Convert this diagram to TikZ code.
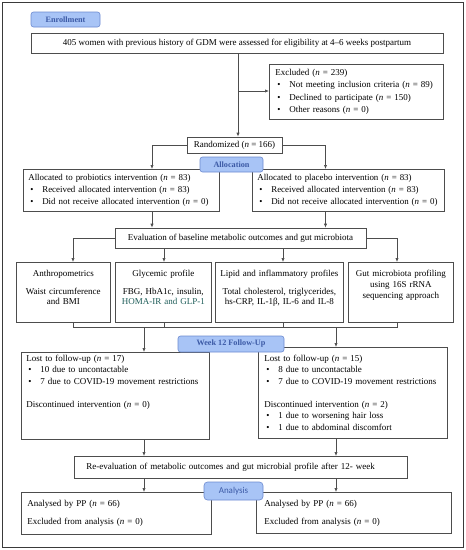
\documentclass[tikz,border=0pt]{standalone}
\usepackage{fontspec}
\setmainfont{Liberation Serif}
\newfontfamily\tabsans{Carlito}
\usepackage{xcolor}
\usepackage{tikz}
\usetikzlibrary{arrows.meta}
\definecolor{FCTab}{HTML}{A8C4F6}
\definecolor{FCTabLine}{HTML}{6C8AD0}
\definecolor{FCTabText}{HTML}{3C5AA6}
\definecolor{FCLine}{HTML}{4D4D4D}
\definecolor{FCFrame}{HTML}{3A3A3A}
\definecolor{FCTeal}{HTML}{1D5C58}
\newcommand{\nn}{\textit{n}}
\newcommand{\bul}{\makebox[14pt][l]{\hspace{2pt}\textbullet}}

\begin{document}
\begin{tikzpicture}[x=1pt,y=-1pt,
  every node/.style={font=\fontsize{9}{11.6}\selectfont},
  box/.style={draw=FCLine,line width=0.65pt,inner sep=0pt},
  tab/.style={draw=FCTabLine,fill=FCTab,rounded corners=2.5pt,line width=0.6pt,text=FCTabText,inner sep=0pt,font=\fontsize{8.2}{9}\selectfont\bfseries},
  four/.style={box,anchor=north west,align=center,inner xsep=3pt,inner ysep=7pt,text height=7pt,text depth=39pt,font=\fontsize{9}{10}\selectfont},
  arr/.style={draw=FCLine,line width=0.65pt,-{Latex[length=4pt,width=3.2pt]}},
  link/.style={draw=FCLine,line width=0.65pt}]
\path[use as bounding box] (0,0) rectangle (466,550);
\draw[FCFrame,line width=0.9pt] (2.5,2.5) rectangle (463.5,547.5);
% enrollment
\node[box,minimum width=412pt,minimum height=20pt] (assess) at (237,43) {405 women with previous history of GDM were assessed for eligibility at 4--6 weeks postpartum};
\node[box,anchor=north west,inner xsep=6pt,text width=162pt,minimum height=55pt,align=left,font=\fontsize{9}{12.3}\selectfont] (excl) at (269,64) {Excluded (\nn{} = 239)\\ \bul Not meeting inclusion criteria (\nn{} = 89)\\ \bul Declined to participate (\nn{} = 150)\\ \bul Other reasons (\nn{} = 0)};
\node[box,minimum width=95pt,minimum height=16pt] (rand) at (234.5,145) {Randomized (\nn{} = 166)};
% allocation
\node[box,anchor=north west,inner xsep=5pt,text width=186pt,minimum height=42pt,align=left,font=\fontsize{8.9}{12}\selectfont] (allocL) at (23,169) {Allocated to probiotics intervention (\nn{} = 83)\\ \bul Received allocated intervention (\nn{} = 83)\\ \bul Did not receive allocated intervention (\nn{} = 0)};
\node[box,anchor=north west,inner xsep=5pt,text width=182pt,minimum height=42pt,align=left,font=\fontsize{8.9}{12}\selectfont] (allocR) at (252,169) {Allocated to placebo intervention (\nn{} = 83)\\ \bul Received allocated intervention (\nn{} = 83)\\ \bul Did not receive allocated intervention (\nn{} = 0)};
\node[box,minimum width=251pt,minimum height=20pt] (eval) at (240.5,238) {Evaluation of baseline metabolic outcomes and gut microbiota};
\node[four,text width=88pt] (anthro) at (16,262) {Anthropometrics\\[8pt] Waist circumference\\ and BMI};
\node[four,text width=90pt] (glyc) at (115,262) {Glycemic profile\\[8pt] FBG, HbA1c, insulin,\\ \textcolor{FCTeal}{HOMA-IR and GLP-1}};
\node[four,text width=122pt] (lipid) at (215,262) {Lipid and inflammatory profiles\\[8pt] Total cholesterol, triglycerides,\\ hs-CRP, IL-1β, IL-6 and IL-8};
\node[four,text width=99pt,font=\fontsize{9}{11}\selectfont] (gut) at (348,262) {Gut microbiota profiling\\ using 16S rRNA\\ sequencing approach};
% follow-up
\node[box,anchor=north west,align=left,inner xsep=5pt,inner ysep=2pt,text width=178pt,text height=7pt,text depth=76pt,font=\fontsize{9}{11.5}\selectfont] (lostL) at (21,352) {Lost to follow-up (\nn{} = 17)\\ \bul 10 due to uncontactable\\ \bul 7 due to COVID-19 movement restrictions\\[11.5pt] Discontinued intervention (\nn{} = 0)};
\node[box,anchor=north west,align=left,inner xsep=6pt,inner ysep=7pt,text width=177pt,text height=7pt,text depth=70pt,font=\fontsize{9}{11.5}\selectfont] (lostR) at (258,347) {Lost to follow-up (\nn{} = 15)\\ \bul 8 due to uncontactable\\ \bul 7 due to COVID-19 movement restrictions\\[11.5pt] Discontinued intervention (\nn{} = 2)\\ \bul 1 due to worsening hair loss\\ \bul 1 due to abdominal discomfort};
\node[box,anchor=north west,inner xsep=12pt,text width=309pt,minimum height=22pt,align=left] (reeval) at (74,456) {Re-evaluation of metabolic outcomes and gut microbial profile after 12- week};
% analysis
\node[box,anchor=north west,align=left,inner xsep=6pt,inner ysep=7pt,text width=178pt,text height=7pt,text depth=21pt] (anaL) at (21,492) {Analysed by PP (\nn{} = 66)\\[6.4pt] Excluded from analysis (\nn{} = 0)};
\node[box,anchor=north west,align=left,inner xsep=8pt,inner ysep=7pt,text width=179pt,text height=7pt,text depth=20pt] (anaR) at (256,492) {Analysed by PP (\nn{} = 66)\\[6.4pt] Excluded from analysis (\nn{} = 0)};
% connectors
\coordinate (spine) at (238,91);
\draw[arr] (assess.south -| spine) -- (rand.north -| spine);
\draw[arr] (spine) -- (excl.west |- spine);
\coordinate (colL) at (152,0);
\coordinate (colR) at (325.5,0);
\draw[arr] (rand.west) -| (colL |- allocL.north);
\draw[arr] (rand.east) -| (colR |- allocR.north);
\draw[arr] (colL |- allocL.south) -- (colL |- eval.north);
\draw[arr] (colR |- allocR.south) -- (colR |- eval.north);
\coordinate (c1) at (73,0);
\coordinate (c2) at (164,0);
\coordinate (c3) at (283,0);
\coordinate (c4) at (397,0);
\coordinate (bus) at (0,327);
\draw[arr] (eval.west) -| (c1 |- anthro.north);
\draw[arr] (eval.east) -| (c4 |- gut.north);
\draw[arr] (c2 |- eval.south) -- (c2 |- glyc.north);
\draw[arr] (c3 |- eval.south) -- (c3 |- lipid.north);
\draw[link] (c1 |- anthro.south) -- (c1 |- bus) -- (c4 |- bus) -- (c4 |- gut.south);
\draw[link] (c2 |- glyc.south) -- (c2 |- bus) (c3 |- lipid.south) -- (c3 |- bus);
\coordinate (colA) at (144,0);
\coordinate (colB) at (336,0);
\draw[arr] (colA |- bus) -- (colA |- lostL.north);
\draw[arr] (colB |- bus) -- (colB |- lostR.north);
\draw[arr] (colA |- lostL.south) -- (colA |- reeval.north);
\draw[arr] (colB |- lostR.south) -- (colB |- reeval.north);
\draw[arr] (colA |- reeval.south) -- (colA |- anaL.north);
\draw[arr] (colB |- reeval.south) -- (colB |- anaR.north);
% stage tabs
\node[tab,minimum width=69pt,minimum height=15pt] (tabEnrol) at (65.5,19.5) {Enrollment};
\node[tab,minimum width=63pt,minimum height=15pt] (tabAlloc) at (231.5,164.5) {Allocation};
\node[tab,minimum width=106pt,minimum height=16pt] (tabWeek) at (231,344) {Week 12 Follow-Up};
\node[tab,minimum width=59pt,minimum height=18pt,rounded corners=3.5pt,font=\tabsans\fontsize{9}{10}\selectfont] (tabAnal) at (233.5,491) {Analysis};
\end{tikzpicture}
\end{document}
